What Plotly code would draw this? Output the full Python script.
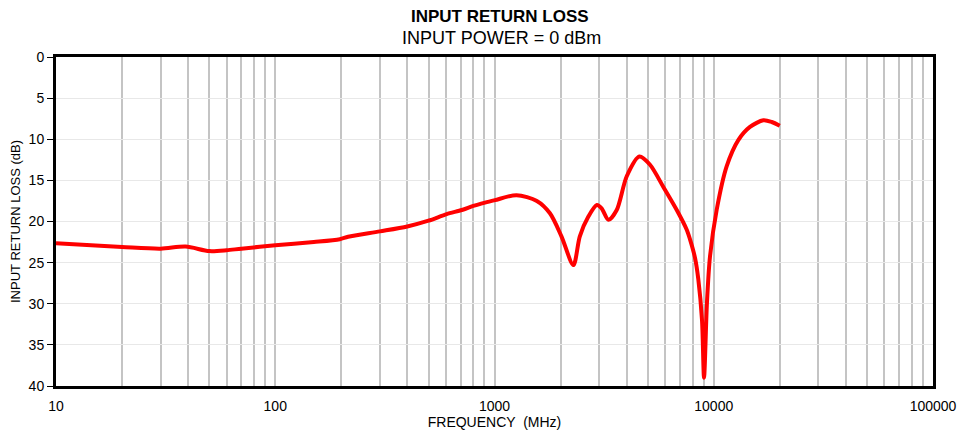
import plotly.graph_objects as go

freq_mhz = [10, 20, 30, 39, 50, 60, 70, 100, 150, 197, 215, 300, 400, 500, 605, 710,
            800, 905, 1005, 1260, 1560, 1790, 2020, 2290, 2450, 2680, 2930, 3080,
            3310, 3610, 4010, 4580, 5120, 5890, 6780, 7530, 7800, 8210, 8500, 8840,
            9030, 9310, 9610, 10310, 11450, 12940, 14630, 16830, 18380, 20000]
return_loss_db = [22.65, 23.1, 23.3, 23.05, 23.6, 23.5, 23.3, 22.9, 22.5, 22.15, 21.85,
                  21.2, 20.6, 19.9, 19.1, 18.6, 18.1, 17.7, 17.4, 16.8, 17.5, 19.0,
                  21.8, 25.3, 21.8, 19.4, 18.0, 18.4, 19.8, 18.6, 14.5, 12.1, 13.1,
                  15.8, 18.6, 21.0, 22.2, 24.4, 27.0, 32.0, 39.0, 29.9, 24.3, 18.6,
                  13.3, 10.1, 8.5, 7.7, 7.9, 8.35]

decade_labels = ["10", "100", "1000", "10000", "100000"]
y_ticks = [0, 5, 10, 15, 20, 25, 30, 35, 40]

tickvals, ticktext = [], []
for d in range(4):
    base = 10 ** (d + 1)
    for m in range(1, 10):
        tickvals.append(base * m)
        ticktext.append(decade_labels[d] if m == 1 else "")
tickvals.append(100000)
ticktext.append(decade_labels[4])

font_family = "Liberation Sans, Arial, Helvetica, sans-serif"

fig = go.Figure()
fig.add_trace(go.Scatter(
    x=freq_mhz, y=return_loss_db, mode="lines",
    line=dict(color="#ff0000", width=4, shape="spline", smoothing=0.8),
    showlegend=False, hoverinfo="skip"))

plot_h = 433 - 57 - 47
fig.update_layout(
    width=959, height=433,
    margin=dict(l=56, r=26, t=57, b=47, autoexpand=False),
    paper_bgcolor="white", plot_bgcolor="white",
    font=dict(family=font_family, size=13, color="black"),
    annotations=[
        dict(text="<b>INPUT RETURN LOSS</b>", xref="paper", yref="paper",
             x=(500 - 56) / 877, y=1 + (57 - 17) / plot_h, showarrow=False,
             yanchor="middle", font=dict(size=17, family=font_family)),
        dict(text="INPUT POWER = 0 dBm", xref="paper", yref="paper",
             x=(501 - 56) / 877, y=1 + (57 - 38) / plot_h, showarrow=False,
             yanchor="middle", font=dict(size=18, family=font_family)),
    ],
)

fig.update_xaxes(
    type="log", range=[1, 5], automargin=False,
    tickvals=tickvals, ticktext=ticktext, ticks="",
    showgrid=True, gridcolor="#c4c4c4", gridwidth=1.5,
    showline=True, linecolor="black", linewidth=2.5, mirror=True,
    tickfont=dict(size=14), ticklabelstandoff=5,
    title=dict(text="FREQUENCY \u00a0(MHz)", font=dict(size=14), standoff=3),
    zeroline=False,
)
fig.update_yaxes(
    range=[40, 0], tickvals=y_ticks, automargin=False,
    ticks="outside", ticklen=6, tickwidth=1, tickcolor="black",
    showgrid=True, gridcolor="#e8e8e8", gridwidth=1,
    showline=True, linecolor="black", linewidth=3, mirror=True,
    tickfont=dict(size=14),
    title=dict(text="INPUT RETURN LOSS (dB)", font=dict(size=13), standoff=6),
    zeroline=False,
)

fig.write_html("out.html", config={"displayModeBar": False},
               post_script="document.body.style.margin='0';document.body.style.overflow='hidden';")
